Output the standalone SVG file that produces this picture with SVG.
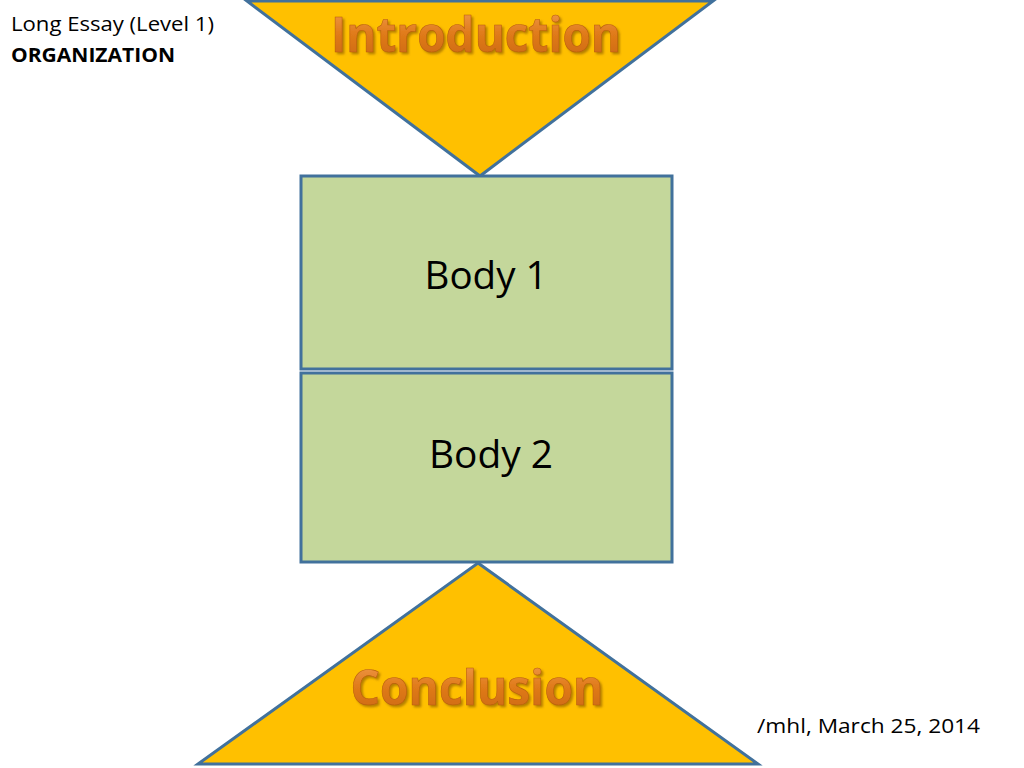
<svg xmlns="http://www.w3.org/2000/svg" width="1024" height="768" viewBox="0 0 1024 768">
<defs>
<linearGradient id="og" x1="0" y1="0" x2="0" y2="1">
<stop offset="0" stop-color="#f5a25a"/>
<stop offset="0.5" stop-color="#e07b1a"/>
<stop offset="1" stop-color="#c86410"/>
</linearGradient>
<filter id="sh" x="-5%" y="-10%" width="110%" height="130%">
<feGaussianBlur in="SourceAlpha" stdDeviation="1.2"/>
<feOffset dx="1.5" dy="2" result="b"/>
<feFlood flood-color="#7a4a00" flood-opacity="0.55"/>
<feComposite in2="b" operator="in"/>
<feMerge><feMergeNode/><feMergeNode in="SourceGraphic"/></feMerge>
</filter>
</defs>
<style>
.tri{fill:#ffc000;stroke:#41719c;stroke-width:3;stroke-linejoin:miter}
.box{fill:#c4d79b;stroke:#41719c;stroke-width:3}
.big{font-family:"Open Sans","Liberation Sans",sans-serif;font-weight:bold;fill:url(#og);stroke:#b85e10;stroke-width:0.6;filter:url(#sh);text-anchor:middle}
.body{font-family:"Open Sans","Liberation Sans",sans-serif;font-size:38px;fill:#000;text-anchor:middle}
.small{font-family:"Open Sans","Liberation Sans",sans-serif;font-size:19.5px;fill:#000}
</style>
<rect width="1024" height="768" fill="#fff"/>
<g id="introduction">
<polygon class="tri" points="247,1 713,1 480,176"/>
<text class="big" x="476" y="52" font-size="48" textLength="290" lengthAdjust="spacingAndGlyphs">Introduction</text>
</g>
<g id="body1">
<rect class="box" x="301" y="176" width="371" height="193"/>
<text class="body" x="486" y="289" textLength="123" lengthAdjust="spacingAndGlyphs">Body 1</text>
</g>
<g id="body2">
<rect class="box" x="301" y="373" width="371" height="189"/>
<text class="body" x="491" y="468" textLength="124" lengthAdjust="spacingAndGlyphs">Body 2</text>
</g>
<g id="conclusion">
<polygon class="tri" points="478,563 758,764 198,764"/>
<text class="big" x="477" y="705" font-size="48" textLength="253" lengthAdjust="spacingAndGlyphs">Conclusion</text>
</g>
<g id="connectors"></g>
<g id="labels">
<text class="small" x="11" y="31" textLength="203" lengthAdjust="spacingAndGlyphs">Long Essay (Level 1)</text>
<text class="small" x="11" y="62" font-weight="bold" textLength="164" lengthAdjust="spacingAndGlyphs">ORGANIZATION</text>
<text class="small" x="757" y="733" font-size="21" textLength="223" lengthAdjust="spacingAndGlyphs">/mhl, March 25, 2014</text>
</g>
</svg>
